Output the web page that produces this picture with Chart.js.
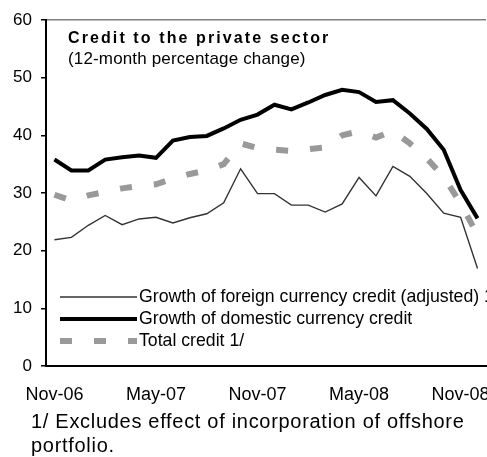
<!DOCTYPE html>
<html>
<head>
<meta charset="utf-8">
<script src="https://cdn.jsdelivr.net/npm/chart.js@4.4.1/dist/chart.umd.min.js"></script>
<style>
html,body{margin:0;padding:0;background:#fff;overflow:hidden;}
#wrap{position:relative;width:487px;height:457px;}
</style>
</head>
<body>
<div id="wrap"><canvas id="c" width="487" height="457"></canvas></div>
<script>
const months = ['Nov-06','Dec-06','Jan-07','Feb-07','Mar-07','Apr-07','May-07','Jun-07','Jul-07','Aug-07','Sep-07','Oct-07','Nov-07','Dec-07','Jan-08','Feb-08','Mar-08','Apr-08','May-08','Jun-08','Jul-08','Aug-08','Sep-08','Oct-08','Nov-08','Dec-08'];
const shownTicks = ['Nov-06','May-07','Nov-07','May-08','Nov-08'];
const yTicks = [0,10,20,30,40,50,60];

const foreignCredit = [21.9,22.3,24.4,26.1,24.5,25.5,25.8,24.8,25.7,26.4,28.3,34.2,29.9,29.9,27.9,27.9,26.7,28.1,32.7,29.5,34.6,32.9,29.9,26.5,25.8,16.9];
const domesticCredit = [35.8,33.9,33.9,35.8,36.2,36.5,36.1,39.1,39.7,39.9,41.2,42.7,43.6,45.3,44.5,45.7,47.0,47.9,47.5,45.8,46.1,43.8,41.1,37.5,30.5,25.6];
const totalCredit = [29.7,28.7,29.6,30.2,30.8,31.2,31.5,32.5,33.3,33.9,35.0,38.6,37.8,37.5,37.3,37.6,37.9,40.0,40.7,39.6,40.8,38.6,36.0,32.8,28.2,22.7];

const seriesNames = ['Growth of foreign currency credit (adjusted) 1/','Growth of domestic currency credit','Total credit 1/'];
const titleText = 'Credit to the private sector';
const subtitleText = '(12-month percentage change)';
const footLines = ['1/ Excludes effect of incorporation of offshore','portfolio.'];

const FONT = '"Liberation Sans", Arial, sans-serif';

const textPlugin = {
  id: 'texts',
  afterDatasetsDraw(chart){
    const ctx = chart.ctx;
    ctx.save();
    ctx.fillStyle = '#000';
    ctx.textBaseline = 'alphabetic';
    ctx.textAlign = 'left';
    ctx.font = 'bold 16px ' + FONT;
    ctx.letterSpacing = '2.1px';
    ctx.fillText(titleText, 68, 43);
    ctx.letterSpacing = '0.15px';
    ctx.font = '17px ' + FONT;
    ctx.fillText(subtitleText, 68, 64);
    ctx.letterSpacing = '0px';
    // legend
    chart.data.datasets.forEach((ds, i) => {
      const y = 297 + 22 * i;
      ctx.save();
      ctx.strokeStyle = ds.borderColor;
      ctx.lineWidth = ds.borderWidth;
      ctx.setLineDash(ds.borderDash || []);
      ctx.lineCap = 'butt';
      ctx.beginPath();
      ctx.moveTo(60, y);
      ctx.lineTo(137, y);
      ctx.stroke();
      ctx.restore();
      ctx.font = '17.7px ' + FONT;
      ctx.fillStyle = '#000';
      ctx.fillText(ds.label, 139, y + 5);
    });
    ctx.font = '20px ' + FONT;
    ctx.letterSpacing = '0.7px';
    ctx.fillText(footLines[0], 31, 428);
    ctx.fillText(footLines[1], 31, 452);
    ctx.restore();
  }
};

new Chart(document.getElementById('c'), {
  type: 'line',
  data: {
    labels: months,
    datasets: [
      {label: seriesNames[0], data: foreignCredit, borderColor: '#333333', borderWidth: 1.4, pointRadius: 0, tension: 0, fill: false, order: 2},
      {label: seriesNames[1], data: domesticCredit, borderColor: '#000000', borderWidth: 4, pointRadius: 0, tension: 0, fill: false, order: 1},
      {label: seriesNames[2], data: totalCredit, borderColor: '#999999', borderWidth: 6, borderDash: [12, 22], borderCapStyle: 'butt', pointRadius: 0, tension: 0, fill: false, order: 3}
    ]
  },
  options: {
    responsive: false,
    animation: false,
    devicePixelRatio: 1,
    layout: {padding: {top: 20, right: 1, bottom: 0, left: 0}},
    plugins: {legend: {display: false}, tooltip: {enabled: false}, title: {display: false}},
    scales: {
      x: {
        type: 'category',
        offset: true,
        grid: {display: false, drawTicks: false},
        border: {display: true, color: '#000', width: 2},
        ticks: {
          autoSkip: false, maxRotation: 0, minRotation: 0, padding: 18,
          color: '#000', font: {family: FONT, size: 18},
          callback: function(v, i){ const l = months[i]; return shownTicks.includes(l) ? l : ''; }
        },
        afterFit(scale){ scale.height = 91; scale.paddingLeft = 0; scale.paddingRight = 0; }
      },
      y: {
        min: 0, max: 60,
        afterBuildTicks(scale){ scale.ticks = yTicks.map(v => ({value: v})); },
        grid: {drawOnChartArea: true, color: (c) => (c.tick && c.tick.value === 60) ? '#808080' : 'rgba(0,0,0,0)', tickColor: '#000', tickLength: 5, lineWidth: 1.5},
        border: {display: true, color: '#000', width: 2},
        ticks: {color: '#000', font: {family: FONT, size: 17}, padding: 9},
        afterFit(scale){ scale.width = 46; scale.paddingTop = 0; scale.paddingBottom = 0; }
      }
    }
  },
  plugins: [textPlugin]
});
</script>
</body>
</html>
